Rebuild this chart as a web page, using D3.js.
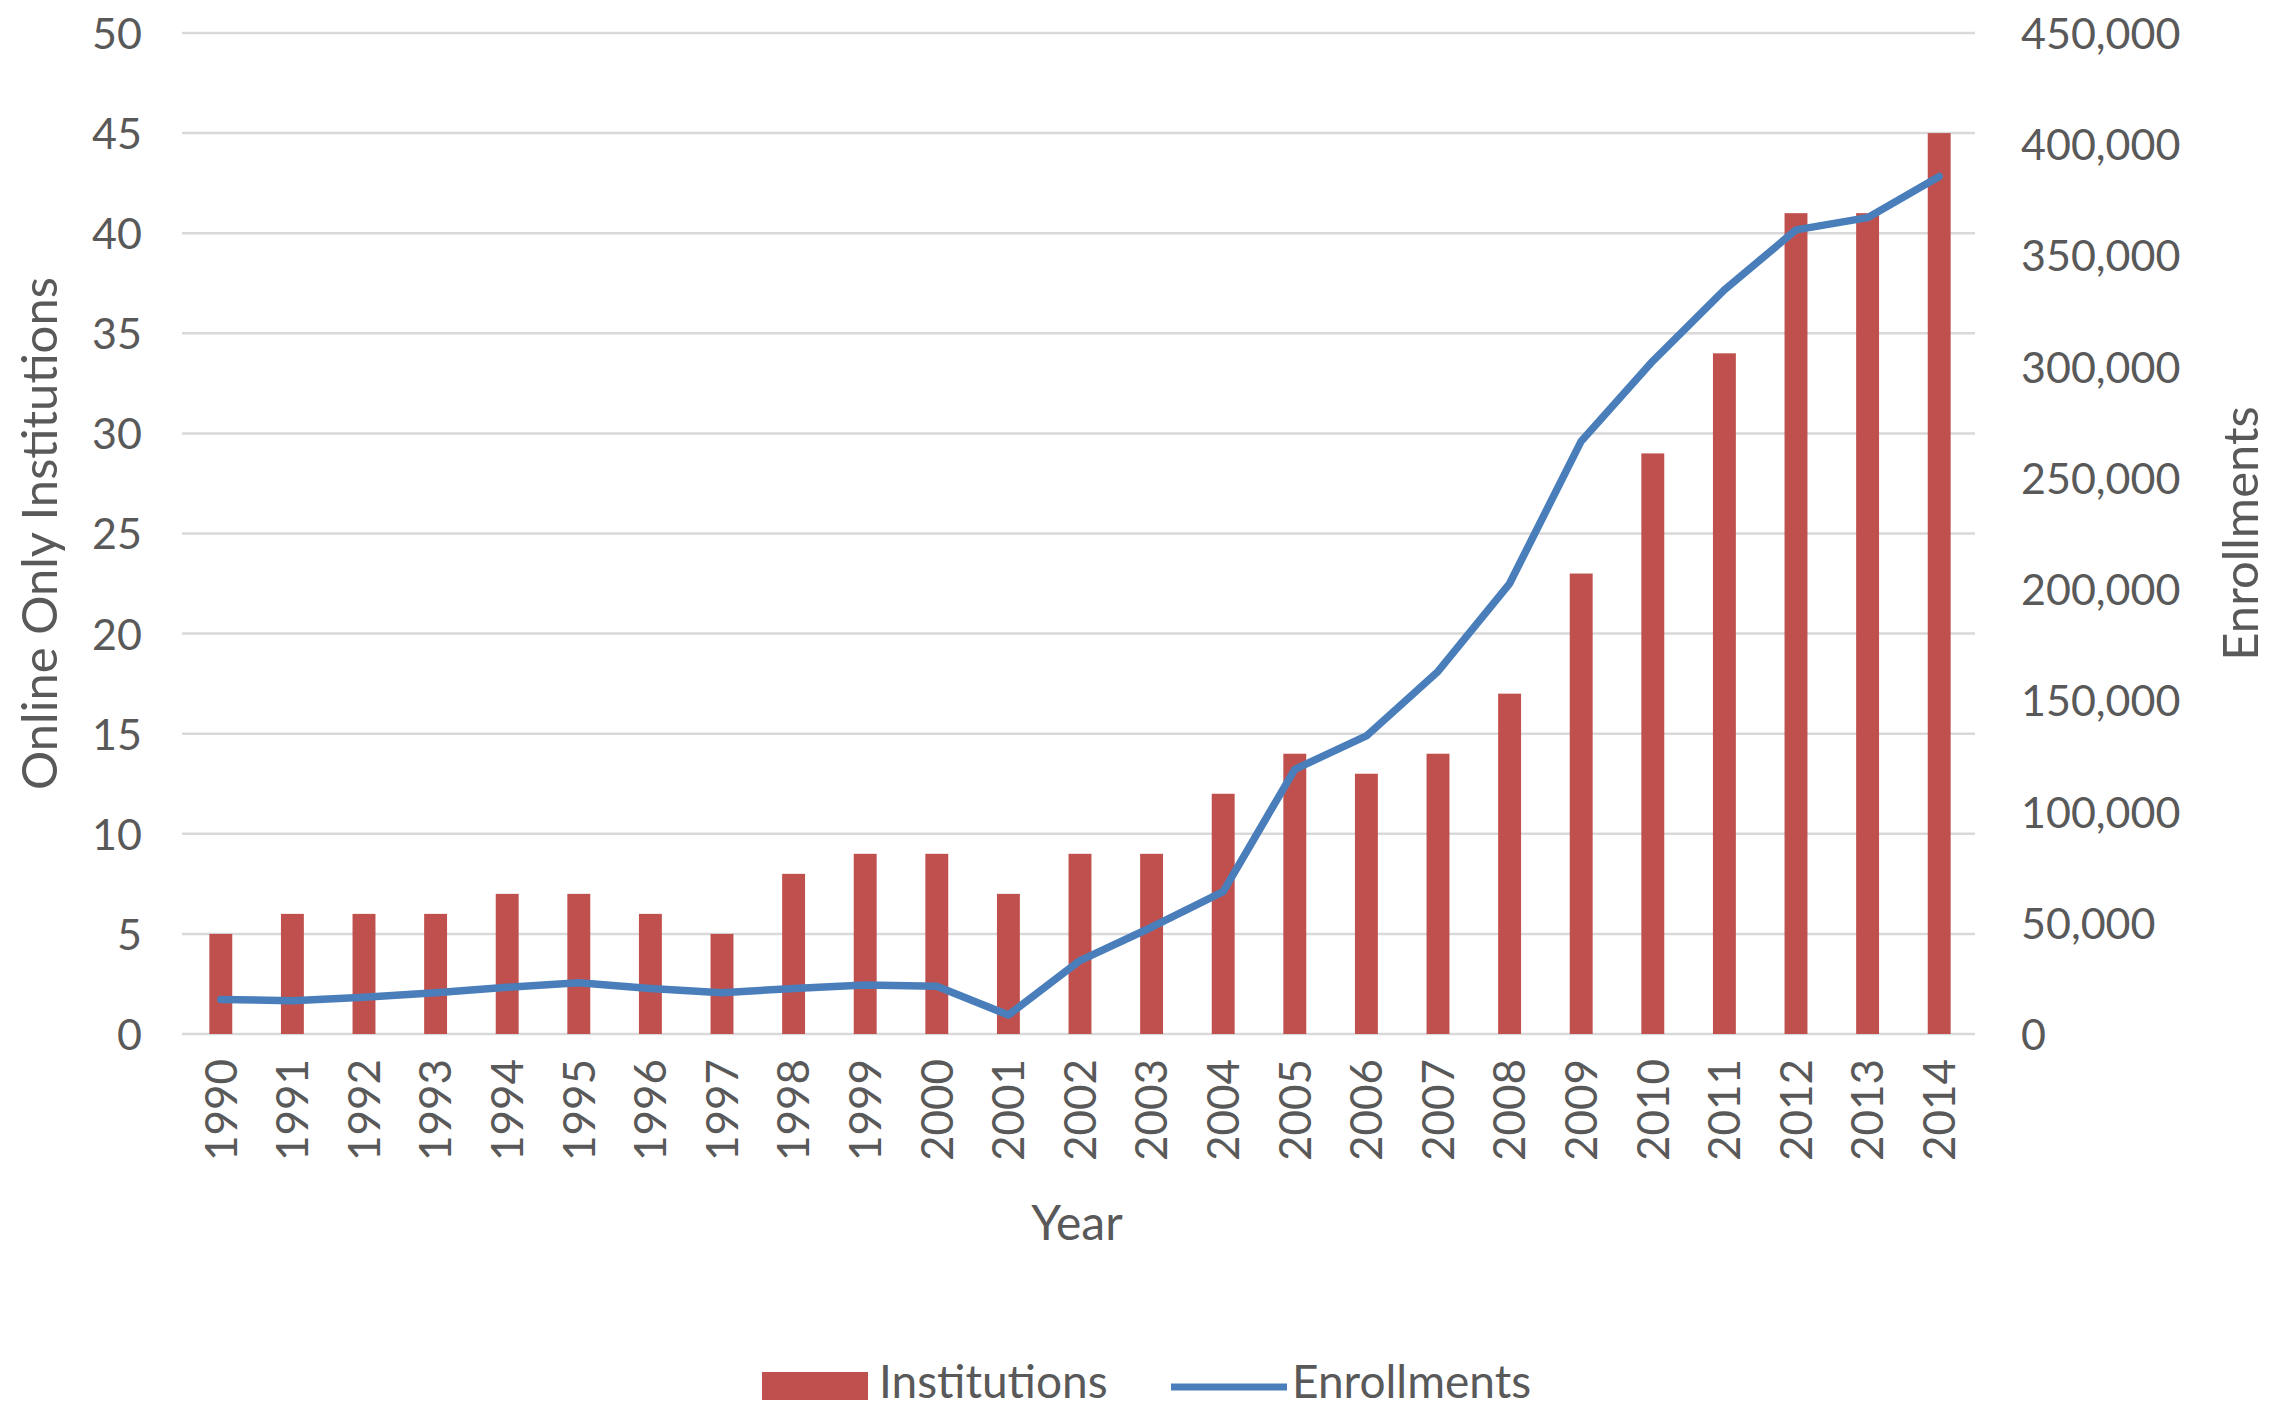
<!DOCTYPE html>
<html>
<head>
<meta charset="utf-8">
<script src="https://cdn.jsdelivr.net/npm/d3@7"></script>
<style>
  html, body { margin: 0; padding: 0; background: #ffffff; }
  svg { display: block; }
  text { font-family: Lato, "Open Sans", sans-serif; fill: #595959; }
</style>
</head>
<body>
<svg id="chart" width="2282" height="1410"></svg>
<script>
const years = ["1990","1991","1992","1993","1994","1995","1996","1997","1998","1999","2000","2001","2002","2003","2004","2005","2006","2007","2008","2009","2010","2011","2012","2013","2014"];
const institutions = [5,6,6,6,7,7,6,5,8,9,9,7,9,9,12,14,13,14,17,23,29,34,41,41,45];
const enrollments = [15500,15000,16500,18500,21000,23000,20500,18500,20500,22000,21500,8500,33000,48000,64000,119000,134000,163000,202500,266500,302500,334500,361500,367000,385500];
const leftTicks = [0,5,10,15,20,25,30,35,40,45,50];
const rightTicks = [0,50000,100000,150000,200000,250000,300000,350000,400000,450000];
const seriesNames = ["Institutions","Enrollments"];
const titles = {left: "Online Only Institutions", right: "Enrollments", x: "Year"};

const svg = d3.select("#chart");
const plot = {left: 185, right: 1975, top: 33, bottom: 1034};

const x = d3.scaleBand().domain(years).range([plot.left, plot.right]).padding(0);
const yL = d3.scaleLinear().domain([0, 50]).range([plot.bottom, plot.top]);
const yR = d3.scaleLinear().domain([0, 450000]).range([plot.bottom, plot.top]);

// gridlines
svg.append("g").selectAll("line").data(leftTicks).join("line")
  .attr("x1", plot.left - 3).attr("x2", plot.right)
  .attr("y1", d => yL(d)).attr("y2", d => yL(d))
  .attr("stroke", "#d9d9d9").attr("stroke-width", 2.5);

// left axis
const axL = d3.axisLeft(yL).tickValues(leftTicks).tickSize(0).tickPadding(0);
const gL = svg.append("g").attr("transform", `translate(${plot.left - 43},0)`).call(axL);
gL.select(".domain").remove();
gL.selectAll("text").style("font-size", "43px").attr("fill", "#595959").attr("dy", "0.36em");

// right axis
const fmt = d3.format(",");
const axR = d3.axisRight(yR).tickValues(rightTicks).tickSize(0).tickPadding(0).tickFormat(fmt);
const gR = svg.append("g").attr("transform", `translate(${plot.right + 46},0)`).call(axR);
gR.select(".domain").remove();
gR.selectAll("text").style("font-size", "43px").attr("fill", "#595959").attr("dy", "0.36em");

// bottom axis labels (rotated)
const axB = d3.axisBottom(x).tickSize(0).tickPadding(0);
const gB = svg.append("g").attr("transform", `translate(0,${plot.bottom + 25})`).call(axB);
gB.select(".domain").remove();
gB.selectAll("text")
  .style("font-size", "44px").attr("fill", "#595959")
  .attr("text-anchor", "end")
  .attr("transform", "rotate(-90)")
  .attr("x", 0).attr("y", 0).attr("dx", 0).attr("dy", "0.36em");

// bars
const barW = x.bandwidth() * 0.32;
svg.append("g").selectAll("rect").data(institutions).join("rect")
  .attr("x", (d, i) => x(years[i]) + x.bandwidth() / 2 - barW / 2)
  .attr("width", barW)
  .attr("y", d => yL(d))
  .attr("height", d => yL(0) - yL(d))
  .attr("fill", "#c0504d");

// line
const line = d3.line()
  .x((d, i) => x(years[i]) + x.bandwidth() / 2)
  .y(d => yR(d));
svg.append("path").datum(enrollments)
  .attr("d", line)
  .attr("fill", "none")
  .attr("stroke", "#4a7ebb")
  .attr("stroke-width", 7.5)
  .attr("stroke-linejoin", "round")
  .attr("stroke-linecap", "round");

// axis titles
svg.append("text").text(titles.left)
  .attr("transform", `translate(57,${(plot.top + plot.bottom) / 2}) rotate(-90)`)
  .attr("text-anchor", "middle").style("font-size", "49px");
svg.append("text").text(titles.right)
  .attr("transform", `translate(2258,${(plot.top + plot.bottom) / 2}) rotate(-90)`)
  .attr("text-anchor", "middle").style("font-size", "49px");
svg.append("text").text(titles.x)
  .attr("x", 1077).attr("y", 1240)
  .attr("text-anchor", "middle").style("font-size", "48px");

// legend
const lg = svg.append("g");
lg.append("rect").attr("x", 762).attr("y", 1372).attr("width", 106).attr("height", 28).attr("fill", "#c0504d");
lg.append("text").text(seriesNames[0]).attr("x", 879).attr("y", 1398).style("font-size", "46px");
lg.append("line").attr("x1", 1171).attr("x2", 1287).attr("y1", 1387).attr("y2", 1387)
  .attr("stroke", "#4a7ebb").attr("stroke-width", 7);
lg.append("text").text(seriesNames[1]).attr("x", 1292).attr("y", 1398).style("font-size", "46px");
</script>
</body>
</html>
